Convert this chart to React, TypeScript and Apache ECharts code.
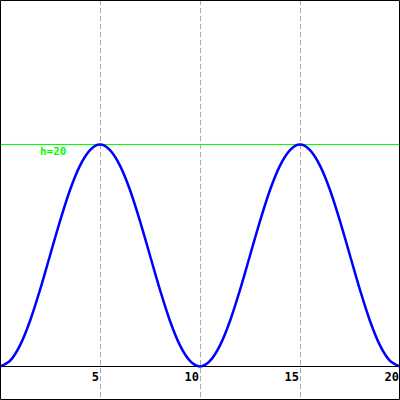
import React, { useEffect, useRef } from "react";
import * as echarts from "echarts";

const xValues = [
  0, 0.5, 1, 1.5, 2, 2.5, 3, 3.5, 4, 4.5, 5, 5.5, 6, 6.5, 7, 7.5, 8, 8.5, 9, 9.5, 10,
  10.5, 11, 11.5, 12, 12.5, 13, 13.5, 14, 14.5, 15, 15.5, 16, 16.5, 17, 17.5, 18, 18.5, 19, 19.5, 20,
];
const hValues = [
  0, 0.5, 1.9, 4.1, 6.9, 10, 13.1, 15.9, 18.1, 19.5, 20, 19.5, 18.1, 15.9, 13.1, 10, 6.9, 4.1, 1.9, 0.5, 0,
  0.5, 1.9, 4.1, 6.9, 10, 13.1, 15.9, 18.1, 19.5, 20, 19.5, 18.1, 15.9, 13.1, 10, 6.9, 4.1, 1.9, 0.5, 0,
];
const refLevel = 20;
const refLabel = "h=20";
const xTicks = [0, 5, 10, 15, 20];

export default function App() {
  const ref = useRef<HTMLDivElement>(null);
  useEffect(() => {
    if (!ref.current) return;
    const chart = echarts.init(ref.current, null, { renderer: "svg" });
    const font = "'DejaVu Sans Mono', monospace";
    chart.setOption({
      animation: false,
      grid: { left: 0, right: 0, top: 0, bottom: 0, containLabel: false, outerBoundsMode: "none" },
      xAxis: {
        type: "value",
        min: xTicks[0],
        max: xTicks[xTicks.length - 1],
        interval: 5,
        offset: -33.5,
        axisLine: { show: true, onZero: false, lineStyle: { color: "#000", width: 1 } },
        axisTick: { show: false },
        axisLabel: {
          showMinLabel: false,
          align: "right",
          margin: 4,
          color: "#000",
          fontFamily: font,
          fontWeight: "bold",
          fontSize: 12,
          padding: [0, 1, 0, 0],
        },
        splitLine: {
          show: true,
          lineStyle: { color: "#aaaaaa", type: [5, 3], width: 1 },
        },
      },
      yAxis: {
        type: "value",
        min: -3.018,
        max: 33.018,
        show: false,
        splitLine: { show: false },
      },
      graphic: [
        {
          type: "rect",
          shape: { x: 0.5, y: 0.5, width: 399, height: 399 },
          style: { fill: "none", stroke: "#000", lineWidth: 1 },
          z: 100,
        },
      ],
      series: [
        {
          type: "line",
          data: xValues.map((x, i) => [x, hValues[i]]),
          showSymbol: false,
          smooth: 0.3,
          lineStyle: { color: "#0000ff", width: 2.5 },
          z: 3,
        },
        {
          type: "line",
          data: [
            [xTicks[0], refLevel],
            [xTicks[xTicks.length - 1], refLevel],
          ],
          showSymbol: false,
          silent: true,
          lineStyle: { color: "#00ff00", width: 1 },
          z: 2,
          markLine: {
            silent: true,
            symbol: "none",
            lineStyle: { color: "rgba(0,0,0,0)", type: "solid", width: 1 },
            label: {
              show: true,
              formatter: refLabel,
              position: "insideStartBottom",
              distance: [40, 2],
              color: "#00ff00",
              fontFamily: font,
              fontWeight: "bold",
              fontSize: 11,
            },
            data: [{ yAxis: refLevel }],
          },
        },
      ],
    });
    return () => chart.dispose();
  }, []);
  return (
    <div
      ref={ref}
      style={{ position: "fixed", left: 0, top: 0, width: 400, height: 400, background: "#fff" }}
    />
  );
}
